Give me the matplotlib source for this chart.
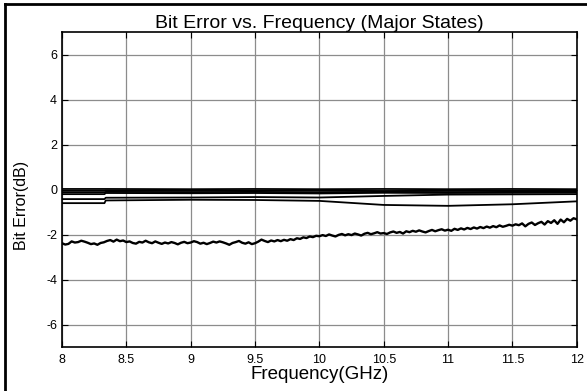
import matplotlib
matplotlib.use('Agg')
import matplotlib.pyplot as plt
from matplotlib.lines import Line2D

plt.rcParams['font.family'] = ['Liberation Sans', 'DejaVu Sans']
plt.rcParams['axes.unicode_minus'] = False

# flat states near 0 dB (freq GHz, error dB)
flat_f = [8.0, 8.33, 8.34, 9.0, 9.5, 10.0, 10.5, 11.0, 11.5, 12.0]
flat_1 = [0.03, 0.03, 0.03, 0.02, 0.03, 0.02, 0.03, 0.02, 0.03, 0.02]
flat_2 = [-0.05, -0.05, -0.04, -0.05, -0.04, -0.05, -0.06, -0.05, -0.04, -0.05]
flat_3 = [-0.12, -0.12, -0.1, -0.11, -0.1, -0.12, -0.1, -0.11, -0.1, -0.1]
flat_4 = [-0.2, -0.2, -0.15, -0.16, -0.15, -0.17, -0.14, -0.15, -0.14, -0.13]
state_a = [-0.42, -0.42, -0.36, -0.35, -0.33, -0.35, -0.28, -0.22, -0.21, -0.2]
state_b = [-0.6, -0.6, -0.48, -0.45, -0.46, -0.5, -0.68, -0.72, -0.65, -0.52]

# worst state, noisy trace, 8 to 12 GHz in 0.025 GHz steps
noisy_f = [8.0 + 0.025 * i for i in range(161)]
noisy = [-2.38, -2.44, -2.41, -2.30, -2.35, -2.33, -2.27, -2.31, -2.36, -2.42,
         -2.39, -2.45, -2.37, -2.34, -2.28, -2.24, -2.31, -2.22, -2.29, -2.26,
         -2.33, -2.30, -2.37, -2.40, -2.32, -2.35, -2.27, -2.34, -2.38, -2.30,
         -2.36, -2.41, -2.35, -2.39, -2.33, -2.37, -2.43, -2.36, -2.32, -2.38,
         -2.35, -2.29, -2.33, -2.40, -2.36, -2.42, -2.37, -2.31, -2.35, -2.30,
         -2.34, -2.39, -2.45, -2.37, -2.33, -2.28, -2.36, -2.40, -2.34, -2.42,
         -2.38, -2.31, -2.22, -2.28, -2.33, -2.26, -2.30, -2.24, -2.29, -2.23,
         -2.27, -2.20, -2.24, -2.16, -2.19, -2.12, -2.15, -2.08, -2.11, -2.05,
         -2.07, -2.02, -2.06, -1.99, -2.04, -2.08, -2.01, -1.97, -2.03, -1.98,
         -2.02, -1.95, -1.99, -2.04, -1.96, -1.92, -1.98, -1.94, -1.89, -1.95,
         -1.93, -1.97, -1.90, -1.86, -1.92, -1.88, -1.95, -1.85, -1.89, -1.83,
         -1.87, -1.81, -1.86, -1.90, -1.84, -1.79, -1.85, -1.80, -1.76, -1.82,
         -1.78, -1.83, -1.74, -1.79, -1.72, -1.77, -1.70, -1.75, -1.68, -1.73,
         -1.66, -1.71, -1.64, -1.69, -1.62, -1.67, -1.59, -1.65, -1.61, -1.56,
         -1.60, -1.54, -1.58, -1.50, -1.63, -1.52, -1.46, -1.57, -1.49, -1.43,
         -1.55, -1.40, -1.48, -1.36, -1.52, -1.33, -1.45, -1.30, -1.38, -1.27,
         -1.32]

xticks = [8, 8.5, 9, 9.5, 10, 10.5, 11, 11.5, 12]
xticklabels = ['8', '8.5', '9', '9.5', '10', '10.5', '11', '11.5', '12']
yticks = [-6, -4, -2, 0, 2, 4, 6]

fig = plt.figure(figsize=(5.87, 3.91), dpi=100)
ax = fig.add_axes([0.1056, 0.112, 0.877, 0.806])

for y in [flat_1, flat_2, flat_3, flat_4, state_a, state_b]:
    ax.plot(flat_f, y, color='black', lw=1.3)
ax.plot(noisy_f, noisy, color='black', lw=1.7)

ax.set_xlim(8, 12)
ax.set_ylim(-7, 7)
ax.set_xticks(xticks)
ax.set_xticklabels(xticklabels)
ax.set_yticks(yticks)
ax.grid(True, color='#8c8c8c', lw=0.9)
ax.tick_params(direction='in', length=4, labelsize=9, top=True, right=True)
ax.tick_params(axis='x', pad=5)
for s in ax.spines.values():
    s.set_linewidth(1.2)

ax.set_title('Bit Error vs. Frequency (Major States)', fontsize=14, pad=3)
ax.set_xlabel('Frequency(GHz)', fontsize=13.5, labelpad=0)
ax.set_ylabel('Bit Error(dB)', fontsize=11.5)
ax.yaxis.set_label_coords(-0.065, 0.45)

# outer frame, only left and top edges show
fig.add_artist(Line2D([0.009, 0.009], [0, 0.99], transform=fig.transFigure,
                      color='black', lw=2))
fig.add_artist(Line2D([0.009, 1], [0.99, 0.99], transform=fig.transFigure,
                      color='black', lw=2))

fig.savefig('out.png', dpi=100)
